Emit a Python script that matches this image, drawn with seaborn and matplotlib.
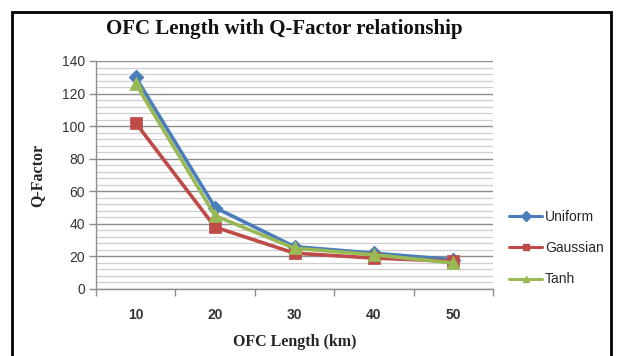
import matplotlib
matplotlib.use("Agg")
import matplotlib.pyplot as plt
from matplotlib.patches import Rectangle
from matplotlib.lines import Line2D
from matplotlib.ticker import MultipleLocator, FixedLocator, NullFormatter
import seaborn as sns
import pandas as pd

lengths = ["10", "20", "30", "40", "50"]
uniform = [130, 50, 26, 22, 18]
gaussian = [102, 38, 22, 19, 17]
tanh = [126, 45, 25, 21, 16]
series_names = ["Uniform", "Gaussian", "Tanh"]
colors = ["#4A7EBB", "#BE4B48", "#98B954"]
markers = ["D", "s", "^"]

df = pd.DataFrame({
    "OFC Length": lengths * 3,
    "Q-Factor": uniform + gaussian + tanh,
    "Scheme": [n for n in series_names for _ in lengths],
})

sns.set_style("white")
plt.rcParams["font.family"] = ["Liberation Sans", "DejaVu Sans"]

fig = plt.figure(figsize=(6.21, 3.56), dpi=100)
ax = fig.add_axes([96 / 621, 1 - 289 / 356, (493 - 96) / 621, (289 - 61) / 356])

sns.pointplot(
    data=df, x="OFC Length", y="Q-Factor", hue="Scheme",
    order=lengths, hue_order=series_names, palette=colors,
    markers=markers, linestyles="-", errorbar=None, ax=ax,
    markersize=6.5, linewidth=2.6, legend=False,
)

ax.set_xlim(-0.5, 4.5)
ax.set_ylim(0, 140)

# Gridlines: dark major lines every 20, light minor lines every 4
ax.yaxis.set_major_locator(MultipleLocator(20))
ax.yaxis.set_minor_locator(MultipleLocator(4))
ax.grid(which="major", axis="y", color="#8c8c8c", linewidth=1.0)
ax.grid(which="minor", axis="y", color="#cfcfcf", linewidth=0.9)
ax.grid(which="both", axis="x", visible=False)
ax.set_axisbelow(True)

# Category labels centred, tick marks between categories
ax.xaxis.set_major_locator(FixedLocator(range(len(lengths))))
ax.set_xticklabels(lengths)
ax.xaxis.set_minor_locator(FixedLocator([i - 0.5 for i in range(len(lengths) + 1)]))
ax.xaxis.set_minor_formatter(NullFormatter())
ax.tick_params(axis="x", which="major", length=0, pad=14, labelsize=10, labelcolor="#333333")
ax.tick_params(axis="x", which="minor", length=5, width=1, color="#8c8c8c", bottom=True)
for t in ax.get_xticklabels():
    t.set_fontweight("bold")
ax.tick_params(axis="y", which="major", length=5, width=1, color="#8c8c8c", left=True,
               labelsize=10, labelcolor="#333333", pad=3)
ax.tick_params(axis="y", which="minor", length=0)

for side in ("top", "right"):
    ax.spines[side].set_visible(False)
for side in ("left", "bottom"):
    ax.spines[side].set_color("#8c8c8c")
    ax.spines[side].set_linewidth(1.0)

ax.set_xlabel("OFC Length (km)", family="Liberation Serif", fontweight="bold",
              fontsize=11.5, labelpad=8)
ax.set_ylabel("Q-Factor", family="Liberation Serif", fontweight="bold",
              fontsize=11.5, labelpad=12)

# Legend with small markers on short line segments
legend_handles = [
    Line2D([], [], color=c, marker=m, markersize=5, linewidth=2.2)
    for c, m in zip(colors, markers)
]
ax.legend(legend_handles, series_names, loc="center left",
          bbox_to_anchor=(502 / 621, 1 - 248 / 356),
          bbox_transform=fig.transFigure, frameon=False, fontsize=10,
          labelspacing=1.25, handlelength=2.4, handletextpad=0.2, borderpad=0)

fig.text(284 / 621, 1 - 29 / 356, "OFC Length with Q-Factor relationship",
         family="Liberation Serif", fontweight="bold", fontsize=15,
         ha="center", va="center", color="#111111")

# Chart frame
fig.patches.append(Rectangle((12 / 621, -0.05), (611 - 12) / 621, 1.05 - 12 / 356,
                             transform=fig.transFigure, fill=False,
                             edgecolor="black", linewidth=2))

fig.savefig("out.png", dpi=100, facecolor="white")
